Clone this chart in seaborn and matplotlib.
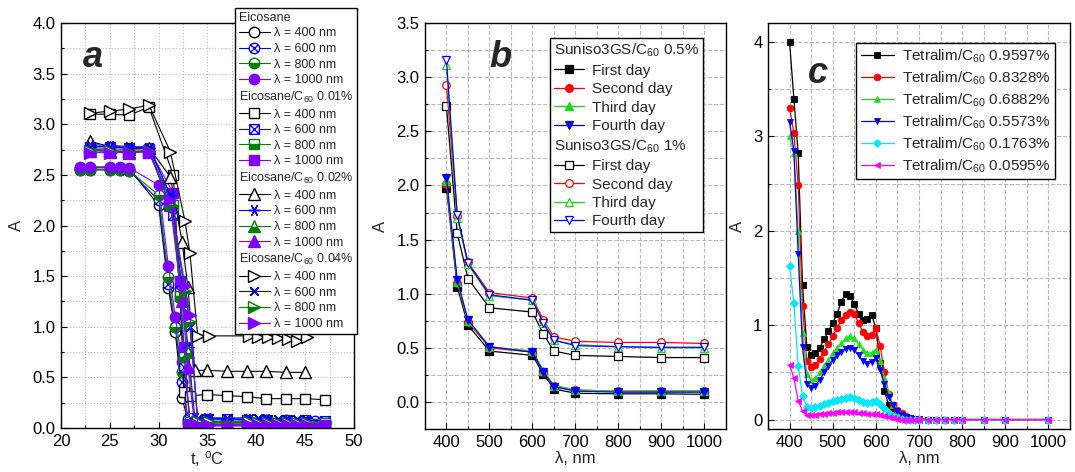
import matplotlib
matplotlib.use("Agg")
import matplotlib.pyplot as plt
import seaborn as sns
from matplotlib.lines import Line2D
from matplotlib.path import Path
from matplotlib.ticker import MultipleLocator, FormatStrFormatter

# ---------------- Panel a data (temperature, deg C) ----------------
t_eic = [22, 23, 25, 26, 27, 30, 31, 31.7, 32.4, 33, 35, 37, 39, 41, 43, 45, 46, 47]
eic_400 = [2.57, 2.57, 2.57, 2.57, 2.56, 2.20, 1.38, 0.95, 0.30, 0.07, 0.06, 0.06, 0.06, 0.06, 0.06, 0.06, 0.06, 0.06]
eic_600 = [2.55, 2.55, 2.55, 2.55, 2.54, 2.25, 1.42, 1.00, 0.45, 0.09, 0.08, 0.08, 0.08, 0.08, 0.08, 0.07, 0.07, 0.06]
eic_800 = [2.55, 2.55, 2.55, 2.55, 2.54, 2.30, 1.49, 1.00, 0.55, 0.05, 0.04, 0.04, 0.04, 0.04, 0.04, 0.04, 0.04, 0.04]
eic_1000 = [2.58, 2.58, 2.58, 2.58, 2.57, 2.40, 1.60, 1.10, 0.65, 0.03, 0.02, 0.02, 0.02, 0.02, 0.02, 0.02, 0.02, 0.02]

t_001 = [23, 25, 27, 29, 31.5, 32.2, 32.6, 33.2, 35, 37, 39, 41, 43, 45, 47]
c001_400 = [3.10, 3.10, 3.09, 3.17, 2.50, 1.30, 0.36, 0.32, 0.33, 0.32, 0.31, 0.29, 0.29, 0.29, 0.28]
c001_600 = [2.78, 2.78, 2.77, 2.76, 2.10, 1.35, 0.60, 0.10, 0.09, 0.09, 0.08, 0.08, 0.08, 0.08, 0.07]
c001_800 = [2.75, 2.74, 2.73, 2.73, 2.20, 1.30, 0.70, 0.06, 0.05, 0.05, 0.05, 0.05, 0.05, 0.05, 0.05]
c001_1000 = [2.77, 2.76, 2.75, 2.76, 2.32, 1.45, 0.80, 0.04, 0.03, 0.03, 0.03, 0.03, 0.03, 0.03, 0.03]

t_002 = [23, 25, 27, 29, 31.2, 32.4, 33.0, 33.7, 35, 37, 39, 41, 43, 45]
c002_400 = [2.83, 2.78, 2.76, 2.77, 2.48, 1.84, 1.39, 0.57, 0.57, 0.56, 0.56, 0.56, 0.55, 0.55]
c002_600 = [2.80, 2.79, 2.78, 2.77, 2.30, 1.40, 0.80, 0.10, 0.10, 0.09, 0.09, 0.09, 0.08, 0.08]
c002_800 = [2.76, 2.74, 2.73, 2.74, 2.25, 1.30, 0.75, 0.06, 0.06, 0.05, 0.05, 0.05, 0.05, 0.05]
c002_1000 = [2.74, 2.73, 2.72, 2.73, 2.20, 1.25, 0.60, 0.03, 0.03, 0.03, 0.03, 0.03, 0.03, 0.03]

t_004 = [23, 25, 27, 29, 31.2, 32.7, 33.2, 34, 35.2, 39.2, 40.2, 41.2, 42.2, 43.2, 44.2, 45.2]
c004_400 = [3.11, 3.13, 3.15, 3.19, 2.73, 2.04, 1.73, 0.91, 0.91, 0.91, 0.90, 0.90, 0.89, 0.88, 0.86, 0.90]
c004_600 = [2.78, 2.78, 2.77, 2.78, 2.30, 1.36, 1.00, 0.10, 0.10, 0.10, 0.10, 0.09, 0.09, 0.09, 0.09, 0.08]
c004_800 = [2.74, 2.74, 2.73, 2.74, 2.20, 1.35, 1.05, 0.06, 0.06, 0.06, 0.05, 0.05, 0.05, 0.05, 0.05, 0.05]
c004_1000 = [2.72, 2.72, 2.72, 2.73, 2.25, 1.40, 1.12, 0.03, 0.03, 0.03, 0.03, 0.03, 0.03, 0.03, 0.03, 0.03]

a_groups = ["Eicosane", "Eicosane/C$_{60}$ 0.01%", "Eicosane/C$_{60}$ 0.02%", "Eicosane/C$_{60}$ 0.04%"]
a_wl_labels = ["λ = 400 nm", "λ = 600 nm", "λ = 800 nm", "λ = 1000 nm"]

# ---------------- Panel b data ----------------
lam_b = [400, 425, 450, 500, 600, 625, 650, 700, 800, 900, 1000]
s05_day1 = [1.98, 1.065, 0.71, 0.47, 0.43, 0.26, 0.12, 0.08, 0.075, 0.075, 0.07]
s05_day2 = [2.01, 1.10, 0.74, 0.50, 0.46, 0.28, 0.15, 0.11, 0.10, 0.10, 0.10]
s05_day3 = [2.04, 1.11, 0.75, 0.51, 0.47, 0.29, 0.15, 0.11, 0.10, 0.105, 0.105]
s05_day4 = [2.07, 1.13, 0.76, 0.51, 0.46, 0.28, 0.14, 0.10, 0.09, 0.09, 0.09]
s1_day1 = [2.73, 1.56, 1.14, 0.87, 0.83, 0.63, 0.47, 0.43, 0.42, 0.41, 0.41]
s1_day2 = [2.93, 1.72, 1.29, 1.01, 0.96, 0.76, 0.60, 0.56, 0.55, 0.55, 0.54]
s1_day3 = [3.11, 1.70, 1.27, 0.98, 0.94, 0.73, 0.57, 0.53, 0.51, 0.50, 0.50]
s1_day4 = [3.16, 1.73, 1.28, 0.99, 0.94, 0.73, 0.57, 0.52, 0.51, 0.505, 0.505]
b_headers = ["Suniso3GS/C$_{60}$ 0.5%", "Suniso3GS/C$_{60}$ 1%"]
b_days = ["First day", "Second day", "Third day", "Fourth day"]

# ---------------- Panel c data ----------------
lam_c = [400, 410, 420, 430, 440, 450, 460, 470, 480, 490, 500, 510, 520, 530, 540, 550,
         560, 570, 580, 590, 600, 610, 620, 630, 640, 650, 660, 670, 680, 690, 700,
         720, 740, 760, 780, 800, 850, 900, 1000]
tet_09597 = [4.00, 3.40, 2.82, 1.43, 0.77, 0.68, 0.71, 0.76, 0.85, 0.94, 1.02, 1.12, 1.25, 1.33, 1.31, 1.22,
             1.12, 1.05, 1.06, 1.11, 0.97, 0.60, 0.30, 0.15, 0.10, 0.08, 0.05, 0.03, 0.02, 0.01, 0.01,
             0.0, 0.0, 0.0, 0.0, 0.0, 0.0, 0.0, 0.0]
tet_08328 = [3.30, 3.04, 2.48, 1.20, 0.62, 0.56, 0.58, 0.64, 0.72, 0.80, 0.88, 0.97, 1.05, 1.11, 1.14, 1.12,
             1.02, 0.93, 0.89, 0.90, 0.97, 0.78, 0.50, 0.27, 0.15, 0.10, 0.07, 0.04, 0.02, 0.01, 0.01,
             0.0, 0.0, 0.0, 0.0, 0.0, 0.0, 0.0, 0.0]
tet_06882 = [3.00, 2.82, 2.00, 0.92, 0.48, 0.42, 0.44, 0.50, 0.57, 0.63, 0.70, 0.76, 0.81, 0.86, 0.88, 0.86,
             0.80, 0.74, 0.70, 0.71, 0.74, 0.62, 0.44, 0.28, 0.15, 0.08, 0.05, 0.03, 0.02, 0.01, 0.01,
             0.0, 0.0, 0.0, 0.0, 0.0, 0.0, 0.0, 0.0]
tet_05573 = [3.15, 2.85, 1.75, 0.77, 0.38, 0.33, 0.36, 0.42, 0.50, 0.57, 0.63, 0.68, 0.72, 0.75, 0.76, 0.74,
             0.68, 0.62, 0.59, 0.61, 0.65, 0.52, 0.38, 0.24, 0.15, 0.09, 0.05, 0.03, 0.02, 0.01, 0.0,
             0.0, 0.0, 0.0, 0.0, 0.0, 0.0, 0.0, 0.0]
tet_01763 = [1.63, 1.23, 0.57, 0.25, 0.13, 0.12, 0.13, 0.14, 0.16, 0.18, 0.20, 0.21, 0.22, 0.23, 0.24, 0.23,
             0.21, 0.19, 0.18, 0.19, 0.20, 0.17, 0.12, 0.07, 0.04, 0.02, 0.01, 0.0, 0.0, 0.0, 0.0,
             0.0, 0.0, 0.0, 0.0, 0.0, 0.0, 0.0, 0.0]
tet_00595 = [0.58, 0.44, 0.20, 0.09, 0.05, 0.05, 0.05, 0.06, 0.06, 0.07, 0.07, 0.08, 0.08, 0.08, 0.08, 0.08,
             0.07, 0.07, 0.06, 0.06, 0.06, 0.05, 0.04, 0.03, 0.02, 0.01, 0.0, 0.0, 0.0, 0.0, 0.0,
             0.0, 0.0, 0.0, 0.0, 0.0, 0.0, 0.0, 0.0]
c_labels = ["Tetralim/C$_{60}$ 0.9597%", "Tetralim/C$_{60}$ 0.8328%", "Tetralim/C$_{60}$ 0.6882%",
            "Tetralim/C$_{60}$ 0.5573%", "Tetralim/C$_{60}$ 0.1763%", "Tetralim/C$_{60}$ 0.0595%"]

# ---------------- style ----------------
sns.set_theme(style="white")
plt.rcParams["font.family"] = ["Liberation Sans", "DejaVu Sans"]
plt.rcParams["mathtext.fontset"] = "custom"
plt.rcParams["mathtext.rm"] = "Liberation Sans"
plt.rcParams["mathtext.it"] = "Liberation Sans:italic"
plt.rcParams["mathtext.bf"] = "Liberation Sans:bold"
plt.rcParams["mathtext.default"] = "regular"

BLACK, BLUE, GREEN, PURPLE = "#000000", "#0000ff", "#008000", "#8000ff"


def circ_x():
    d = 0.7071
    return Path.make_compound_path(
        Path.unit_circle(),
        Path([(-d, -d), (d, d)], [Path.MOVETO, Path.LINETO]),
        Path([(-d, d), (d, -d)], [Path.MOVETO, Path.LINETO]))


def sq_x():
    sq = Path([(-1, -1), (1, -1), (1, 1), (-1, 1), (-1, -1)],
              [Path.MOVETO, Path.LINETO, Path.LINETO, Path.LINETO, Path.CLOSEPOLY])
    return Path.make_compound_path(
        sq,
        Path([(-1, -1), (1, 1)], [Path.MOVETO, Path.LINETO]),
        Path([(-1, 1), (1, -1)], [Path.MOVETO, Path.LINETO]))


def draw(ax, x, y, color, marker, ms, face, fill="full", alt="none", lw=0.8, mew=1.0, z=2):
    sns.lineplot(x=x, y=y, ax=ax, color=color, marker=marker, markersize=ms,
                 markerfacecolor=face, markeredgecolor=color, markeredgewidth=mew,
                 fillstyle=fill, markerfacecoloralt=alt, linewidth=lw,
                 estimator=None, sort=False, errorbar=None, legend=False, zorder=z)
    return ax.get_lines()[-1]


def left_align_headers(leg, headers):
    for vp in leg._legend_handle_box.get_children():
        for hp in vp.get_children():
            ch = hp.get_children()
            if len(ch) == 2 and ch[1].get_text() in headers:
                ch[0].set_width(0)
                hp.sep = 0


def style_axes(ax, ls):
    for s in ax.spines.values():
        s.set_color("black")
        s.set_linewidth(1.0)
    ax.tick_params(which="both", direction="in", bottom=True, left=True,
                   colors="black", labelsize=12, pad=4)
    ax.tick_params(which="major", length=4, width=0.8)
    ax.tick_params(which="minor", length=2.5, width=0.8)
    ax.grid(True, which="both", ls=ls, color="#b8b8b8", lw=0.8)
    ax.set_axisbelow(True)


fig = plt.figure(figsize=(10.75, 4.72), dpi=100)
ax_a = fig.add_axes([0.0567, 0.0932, 0.2726, 0.858])
ax_b = fig.add_axes([0.3953, 0.0911, 0.280, 0.860])
ax_c = fig.add_axes([0.7144, 0.0911, 0.281, 0.860])

# ---------------- panel a ----------------
MS = 7.5
a_lines = []
g = []
g.append(draw(ax_a, t_eic, eic_400, BLACK, "o", MS, "white"))
g.append(draw(ax_a, t_eic, eic_600, BLUE, circ_x(), MS, "white"))
g.append(draw(ax_a, t_eic, eic_800, GREEN, "o", MS, GREEN, fill="bottom", alt="white"))
g.append(draw(ax_a, t_eic, eic_1000, PURPLE, "o", MS, PURPLE))
a_lines.append(g)
g = []
g.append(draw(ax_a, t_001, c001_400, BLACK, "s", MS - 0.5, "white"))
g.append(draw(ax_a, t_001, c001_600, BLUE, sq_x(), MS - 0.5, "white"))
g.append(draw(ax_a, t_001, c001_800, GREEN, "s", MS - 0.5, GREEN, fill="bottom", alt="white"))
g.append(draw(ax_a, t_001, c001_1000, PURPLE, "s", MS - 0.5, PURPLE))
a_lines.append(g)
g = []
g.append(draw(ax_a, t_002, c002_400, BLACK, "^", MS + 0.5, "white"))
g.append(draw(ax_a, t_002, c002_600, BLUE, (6, 2, 90), MS + 1, "white"))
g.append(draw(ax_a, t_002, c002_800, GREEN, "^", MS + 0.5, GREEN, fill="bottom", alt="white"))
g.append(draw(ax_a, t_002, c002_1000, PURPLE, "^", MS + 0.5, PURPLE))
a_lines.append(g)
g = []
g.append(draw(ax_a, t_004, c004_400, BLACK, ">", MS + 0.5, "white"))
g.append(draw(ax_a, t_004, c004_600, BLUE, (4, 2, 45), MS + 1, "white"))
g.append(draw(ax_a, t_004, c004_800, GREEN, ">", MS + 0.5, GREEN, fill="bottom", alt="white"))
g.append(draw(ax_a, t_004, c004_1000, PURPLE, ">", MS + 0.5, PURPLE))
a_lines.append(g)

ax_a.set_xlim(20, 50)
ax_a.set_ylim(0, 4)
ax_a.xaxis.set_major_locator(MultipleLocator(5))
ax_a.xaxis.set_minor_locator(MultipleLocator(2.5))
ax_a.yaxis.set_major_locator(MultipleLocator(0.5))
ax_a.yaxis.set_minor_locator(MultipleLocator(0.25))
ax_a.yaxis.set_major_formatter(FormatStrFormatter("%.1f"))
style_axes(ax_a, ":")
ax_a.set_xlabel("t, $^{o}$C", fontsize=12, labelpad=0)
ax_a.set_ylabel("A", fontsize=12, labelpad=6)
ax_a.text(0.11, 0.915, "a", transform=ax_a.transAxes, fontsize=26, fontweight="bold",
          fontstyle="italic", ha="center", va="center")

h, lab = [], []
for head, lines in zip(a_groups, a_lines):
    h.append(Line2D([], [], ls="", marker=""))
    lab.append(head)
    for ln, wl in zip(lines, a_wl_labels):
        h.append(ln)
        lab.append(wl)
leg_a = ax_a.legend(h, lab, loc="upper left", bbox_to_anchor=(235 / 1075, 1 - 8 / 472),
                    bbox_transform=fig.transFigure, fontsize=9, handlelength=2.5,
                    handletextpad=0.3, labelspacing=0.29, borderpad=0.3, borderaxespad=0,
                    fancybox=False, framealpha=1, edgecolor="black", numpoints=1)
leg_a.get_frame().set_linewidth(1.0)
left_align_headers(leg_a, a_groups)

# ---------------- panel b ----------------
MSB = 5.5
cols_b = [BLACK, "#ff0000", "#16dc16", BLUE]
marks_b = ["s", "o", "^", "v"]
b_filled = [s05_day1, s05_day2, s05_day3, s05_day4]
b_open = [s1_day1, s1_day2, s1_day3, s1_day4]
lines_f, lines_o = [], []
for y, c, m in zip(b_open, cols_b, marks_b):
    lines_o.append(draw(ax_b, lam_b, y, c, m, MSB, "white", lw=0.9, mew=0.9))
for y, c, m in zip(b_filled, cols_b, marks_b):
    lines_f.append(draw(ax_b, lam_b, y, c, m, MSB, c, lw=0.9, mew=0.9))
ax_b.set_xlim(350, 1050)
ax_b.set_ylim(-0.25, 3.5)
ax_b.xaxis.set_major_locator(MultipleLocator(100))
ax_b.xaxis.set_minor_locator(MultipleLocator(50))
ax_b.yaxis.set_major_locator(MultipleLocator(0.5))
ax_b.yaxis.set_minor_locator(MultipleLocator(0.25))
ax_b.yaxis.set_major_formatter(FormatStrFormatter("%.1f"))
style_axes(ax_b, "--")
ax_b.set_xlabel("λ, nm", fontsize=12, labelpad=1)
ax_b.set_ylabel("A", fontsize=12, labelpad=6)
ax_b.text(0.25, 0.915, "b", transform=ax_b.transAxes, fontsize=26, fontweight="bold",
          fontstyle="italic", ha="center", va="center")
hb, lb = [Line2D([], [], ls="", marker="")], [b_headers[0]]
hb += lines_f
lb += b_days
hb.append(Line2D([], [], ls="", marker=""))
lb.append(b_headers[1])
hb += lines_o
lb += b_days
leg_b = ax_b.legend(hb, lb, loc="upper left", bbox_to_anchor=(550 / 1075, 1 - 38 / 472),
                    bbox_transform=fig.transFigure, fontsize=11, handlelength=2.0,
                    handletextpad=0.5, labelspacing=0.29, borderpad=0.25, borderaxespad=0,
                    fancybox=False, framealpha=1, edgecolor="black", numpoints=1)
leg_b.get_frame().set_linewidth(1.0)
left_align_headers(leg_b, b_headers)

# ---------------- panel c ----------------
MSC = 4.2
c_series = [tet_09597, tet_08328, tet_06882, tet_05573, tet_01763, tet_00595]
c_cols = [BLACK, "#ff0000", "#22dd22", BLUE, "#00e8ff", "#ff00ff"]
c_marks = ["s", "o", "^", "v", "D", "<"]
c_sizes = [MSC, MSC + 0.6, MSC + 0.8, MSC + 0.8, MSC, MSC + 0.8]
lines_c = []
for y, c, m, s in zip(c_series, c_cols, c_marks, c_sizes):
    lines_c.append(draw(ax_c, lam_c, y, c, m, s, c, lw=0.9, mew=0.6))
ax_c.set_xlim(350, 1050)
ax_c.set_ylim(-0.1, 4.2)
ax_c.xaxis.set_major_locator(MultipleLocator(100))
ax_c.xaxis.set_minor_locator(MultipleLocator(50))
ax_c.yaxis.set_major_locator(MultipleLocator(1))
ax_c.yaxis.set_minor_locator(MultipleLocator(0.5))
ax_c.yaxis.set_major_formatter(FormatStrFormatter("%d"))
style_axes(ax_c, "--")
ax_c.set_xlabel("λ, nm", fontsize=12, labelpad=1)
ax_c.set_ylabel("A", fontsize=12, labelpad=6)
ax_c.text(0.165, 0.875, "c", transform=ax_c.transAxes, fontsize=26, fontweight="bold",
          fontstyle="italic", ha="center", va="center")
leg_c = ax_c.legend(lines_c, c_labels, loc="upper left", bbox_to_anchor=(856 / 1075, 1 - 43 / 472),
                    bbox_transform=fig.transFigure, fontsize=11, handlelength=2.2,
                    handletextpad=0.5, labelspacing=0.3, borderpad=0.3, borderaxespad=0,
                    fancybox=False, framealpha=1, edgecolor="black", numpoints=1)
leg_c.get_frame().set_linewidth(1.0)

fig.savefig("out.png", dpi=100)
